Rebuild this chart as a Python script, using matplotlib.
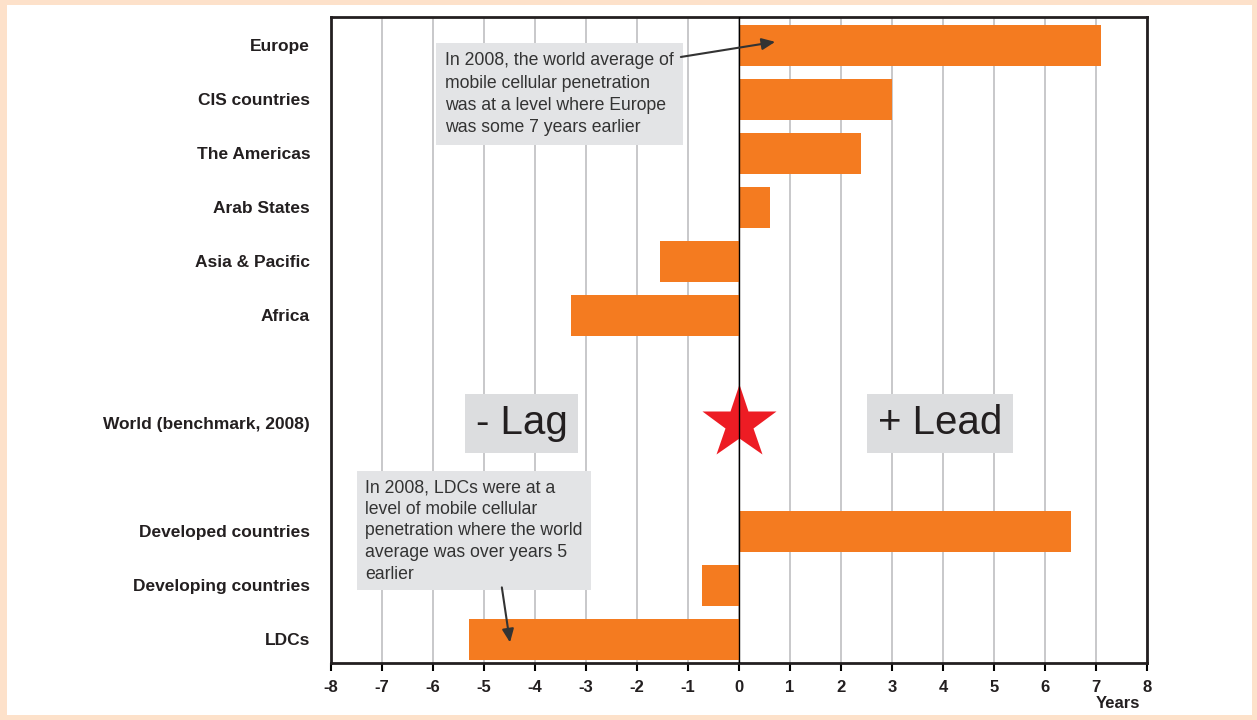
import matplotlib
matplotlib.use("Agg")
import matplotlib.pyplot as plt
from matplotlib.patches import Rectangle

plt.rcParams['font.family'] = ['Liberation Sans', 'DejaVu Sans']

# row labels, top to bottom (empty strings are spacer rows)
regions = ["Europe", "CIS countries", "The Americas", "Arab States",
           "Asia & Pacific", "Africa", "", "World (benchmark, 2008)", "",
           "Developed countries", "Developing countries", "LDCs"]
# lead (+) / lag (-) in years relative to the 2008 world average
lead_years = [7.1, 3.0, 2.4, 0.6, -1.55, -3.3, None, 0.0, None, 6.5, -0.72, -5.3]
benchmark = "World (benchmark, 2008)"
year_ticks = list(range(-8, 9))

orange = "#f47b20"
grey_box = "#e3e4e6"
txt = "#231f20"

fig = plt.figure(figsize=(12.57, 7.2), dpi=100)
fig.patch.set_facecolor("#fde1ca")
fig.add_artist(Rectangle((7 / 1257, 5 / 720), 1245 / 1257, 710 / 720,
                         transform=fig.transFigure, facecolor="white",
                         edgecolor="none", zorder=0))

ax = fig.add_axes([331 / 1257, 57 / 720, 816 / 1257, 646 / 720])
ax.set_facecolor("white")

rows = list(range(len(regions)))
for r, name, v in zip(rows, regions, lead_years):
    if v is None or name == benchmark:
        continue
    ax.barh(r, v, height=0.76, color=orange, zorder=3)

# benchmark star
bi = regions.index(benchmark)
ax.plot(0, bi, marker="*", ms=56, color="#ed1c24", mec="none", zorder=4)
ax.axvline(0, color="black", lw=1.0, zorder=5)

ax.set_xlim(-8, 8)
ax.set_ylim(11.44, -0.52)
ax.set_xticks(year_ticks)
ax.set_xticklabels([str(t) for t in year_ticks], fontweight="bold",
                   fontsize=12, color=txt)
ax.set_yticks(rows)
ax.set_yticklabels(regions, fontweight="bold", fontsize=12.5, color=txt)
ax.tick_params(axis="y", length=0, pad=15)
ax.tick_params(axis="x", direction="out", length=6, width=1.5, pad=6)
ax.xaxis.grid(True, color="#c4c4c6", lw=1.3, zorder=1)
ax.set_axisbelow(True)
for s in ax.spines.values():
    s.set_linewidth(2.0)
    s.set_color("#231f20")

fig.text(1140 / 1257, 1 - 703 / 720, "Years", ha="right", va="center",
         fontsize=12, fontweight="bold", color=txt)

# lag / lead labels
ax.text(-4.26, bi, "- Lag", ha="center", va="center", fontsize=29,
        color=txt, zorder=6,
        bbox=dict(boxstyle="square,pad=0.26", fc="#dcdddf", ec="none"))
ax.text(3.94, bi, "+ Lead", ha="center", va="center", fontsize=29,
        color=txt, zorder=6,
        bbox=dict(boxstyle="square,pad=0.26", fc="#dcdddf", ec="none"))

# callouts
note1 = ("In 2008, the world average of\nmobile cellular penetration\n"
         "was at a level where Europe\nwas some 7 years earlier")
note2 = ("In 2008, LDCs were at a\nlevel of mobile cellular\n"
         "penetration where the world\naverage was over years 5\nearlier")
ax.text(-5.76, 0.13, note1, ha="left", va="top", fontsize=12.7, color="#333333",
        linespacing=1.42, zorder=6,
        bbox=dict(boxstyle="square,pad=0.5", fc=grey_box, ec="none"))
ax.text(-7.33, 8.04, note2, ha="left", va="top", fontsize=12.7, color="#333333",
        linespacing=1.35, zorder=6,
        bbox=dict(boxstyle="square,pad=0.45", fc=grey_box, ec="none"))
arrow = dict(arrowstyle="-|>,head_length=0.8,head_width=0.35", color="#333333",
             lw=1.5, shrinkA=0, shrinkB=0)
ax.annotate("", xy=(0.71, -0.06), xytext=(-1.14, 0.22), arrowprops=arrow,
            zorder=7)
ax.annotate("", xy=(-4.49, 11.06), xytext=(-4.65, 10.04), arrowprops=arrow,
            zorder=7)

fig.savefig("out.png", dpi=100, facecolor=fig.get_facecolor())
